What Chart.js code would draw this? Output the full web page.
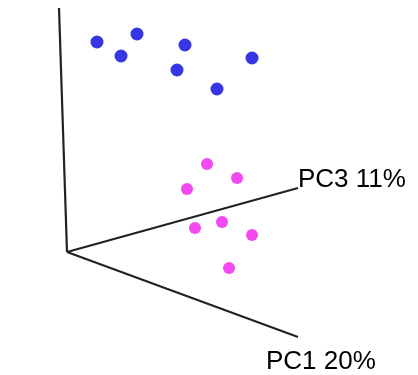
<!DOCTYPE html>
<html>
<head>
<meta charset="utf-8">
<script src="https://cdn.jsdelivr.net/npm/chart.js@4/dist/chart.umd.min.js"></script>
<style>
  html, body { margin: 0; padding: 0; background: #fff; }
  #wrap { width: 418px; height: 375px; }
</style>
</head>
<body>
<div id="wrap"><canvas id="pca"></canvas></div>
<script>
    "use strict";

    // projected PCA scores (origin at axis corner)
    var groupA = [
        { x: 30, y: 210 }, { x: 70, y: 218 }, { x: 54, y: 196 }, { x: 118, y: 207 },
        { x: 110, y: 182 }, { x: 185, y: 194 }, { x: 150, y: 163 }
    ];
    var groupB = [
        { x: 140, y: 88 }, { x: 170, y: 74 }, { x: 120, y: 63 }, { x: 155, y: 30 },
        { x: 128, y: 24 }, { x: 185, y: 17 }, { x: 162, y: -16 }
    ];

    // axis ends
    var axisPC2 = [{ x: 0, y: 0 }, { x: -8, y: 244 }];
    var axisPC3 = [{ x: 0, y: 0 }, { x: 231, y: 64 }];
    var axisPC1 = [{ x: 0, y: 0 }, { x: 231, y: -85 }];
    var axisLabels = ["PC3 11%", "PC1 20%"];

    var axisText = {
        id: "axisText",
        afterDatasetsDraw: function (chart) {
            var ctx = chart.ctx;
            var xs = chart.scales.x, ys = chart.scales.y;
            ctx.save();
            ctx.fillStyle = "#000";
            ctx.font = "26px 'Liberation Sans', Arial, sans-serif";
            ctx.textBaseline = "alphabetic";
            ctx.textAlign = "left";
            var p3 = axisPC3[1], p1 = axisPC1[1];
            ctx.fillText(axisLabels[0], xs.getPixelForValue(p3.x), ys.getPixelForValue(p3.y) - 1);
            ctx.fillText(axisLabels[1], xs.getPixelForValue(p1.x) - 32, ys.getPixelForValue(p1.y) + 32);
            ctx.restore();
        }
    };

    var lineStyle = {
        type: "line",
        borderColor: "#222",
        borderWidth: 2.2,
        pointRadius: 0,
        fill: false,
        showLine: true
    };

    var ctx1 = document.getElementById("pca").getContext("2d");
    var myChart = new Chart(ctx1, {
        type: "scatter",
        data: {
            datasets: [
                Object.assign({ label: "PC2", data: axisPC2 }, lineStyle),
                Object.assign({ label: "PC3", data: axisPC3 }, lineStyle),
                Object.assign({ label: "PC1", data: axisPC1 }, lineStyle),
                {
                    label: "A",
                    data: groupA,
                    backgroundColor: "#3636e4",
                    borderWidth: 0,
                    pointRadius: 6.5
                },
                {
                    label: "B",
                    data: groupB,
                    backgroundColor: "#f04af0",
                    borderWidth: 0,
                    pointRadius: 6
                }
            ]
        },
        options: {
            responsive: true,
            maintainAspectRatio: false,
            animation: false,
            layout: { padding: 0, autoPadding: false },
            plugins: {
                legend: { display: false },
                tooltip: { enabled: false }
            },
            scales: {
                x: { type: "linear", min: -67, max: 351, display: false },
                y: { type: "linear", min: -123, max: 252, display: false }
            }
        },
        plugins: [axisText]
    });
</script>
</body>
</html>
